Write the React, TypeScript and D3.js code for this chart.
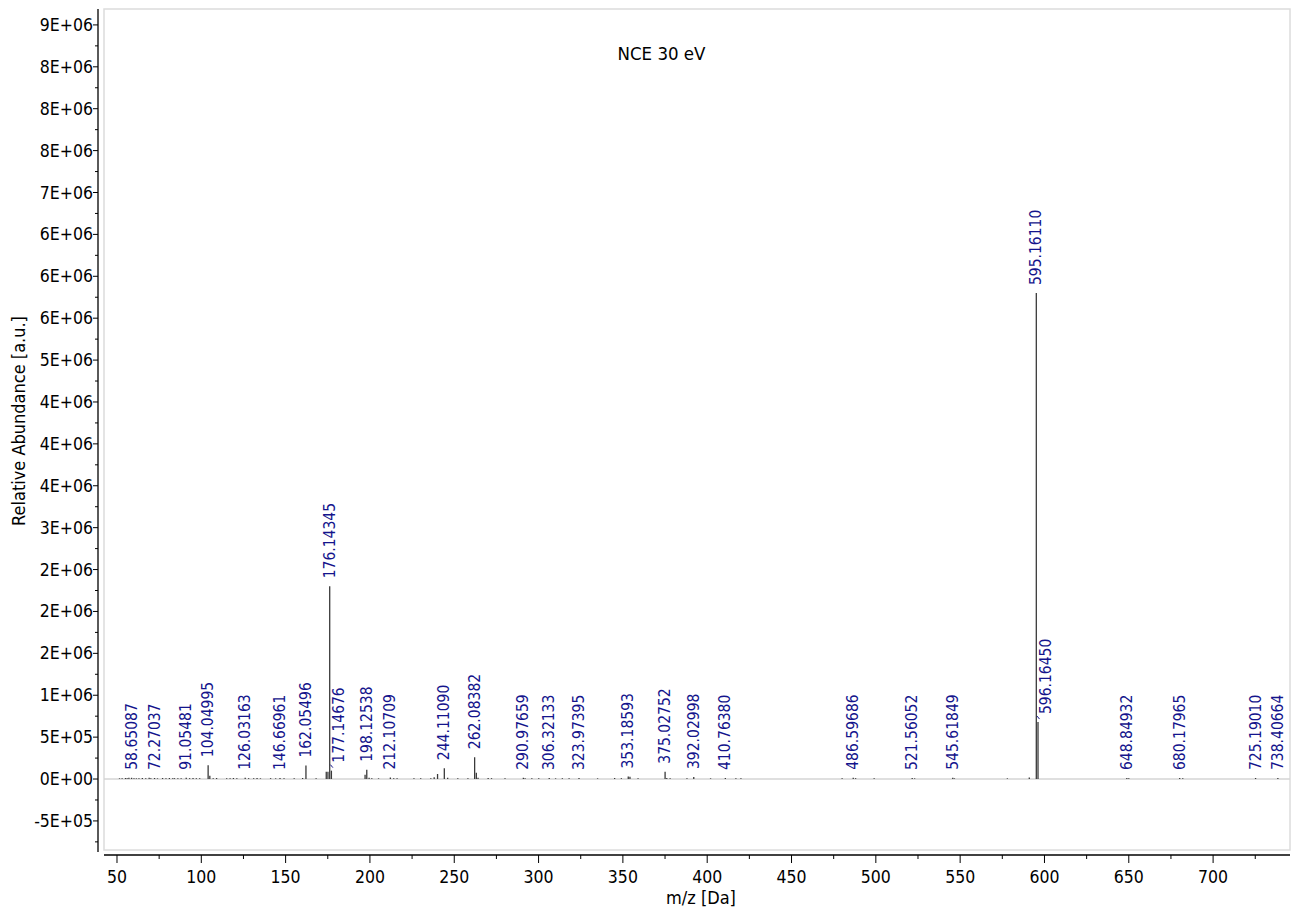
import React from 'react';
import * as d3 from 'd3';

// Centroided MS2 spectrum, NCE 30 eV

// annotated centroids: m/z and abundance
const labeledMz = [
  58.65087, 72.27037, 91.05481, 104.04995, 126.03163, 146.66961, 162.05496,
  176.14345, 177.14676, 198.12538, 212.10709, 244.1109, 262.08382, 290.97659,
  306.32133, 323.97395, 353.18593, 375.02752, 392.02998, 410.7638, 486.59686,
  521.56052, 545.61849, 595.1611, 596.1645, 648.84932, 680.17965, 725.1901,
  738.40664,
];
const labeledAbundance = [
  1.5e4, 1.2e4, 1.5e4, 1.65e5, 1.5e4, 1.2e4, 1.6e5,
  2.3e6, 1.0e5, 1.1e5, 1.8e4, 1.3e5, 2.6e5, 1.5e4,
  1.2e4, 1.2e4, 3.0e4, 8.7e4, 2.4e4, 1.2e4, 1.5e4,
  1.2e4, 1.5e4, 5.8e6, 6.8e5, 1.2e4, 1.2e4, 1.2e4,
  1.2e4,
];
// annotations drawn beside their centroid with a short leader
const leaderMz = [177.14676, 596.1645];

// unannotated centroids
const otherMz = [
  51.5, 53.04, 55.05, 56.05, 57.07, 60.08, 61.5, 63.02, 65.04, 67.05, 69.07,
  70.07, 74.02, 77.04, 79.05, 81.07, 83.06, 84.08, 86.1, 88.04, 93.07, 95.09,
  97.06, 99.05, 105.05, 107.05, 109.07, 115.05, 117.07, 119.05, 121.07, 128.06,
  131.05, 133.06, 135.08, 141.09, 144.08, 149.06, 155.08, 160.08, 168.08,
  174.1, 175.1, 197.12, 199.5, 201.1, 205.1, 214.1, 216.1, 226.1, 230.1, 236.1,
  238.1, 240.1, 246.1, 252.1, 258.1, 263.09, 264.09, 270.1, 272.1, 280.1, 292.0,
  296.0, 300.1, 310.1, 314.1, 318.1, 335.0, 345.1, 349.1, 354.19, 359.0, 376.03,
  378.0, 388.0, 402.0, 417.0, 420.0, 480.0, 488.0, 499.0, 523.0, 546.6, 578.0,
  591.0, 650.0, 682.0,
];
const otherAbundance = [
  8e3, 1e4, 1.2e4, 1e4, 1.5e4, 1e4, 8e3, 1e4, 1.2e4, 1e4, 1.5e4,
  1e4, 8e3, 1.2e4, 1e4, 1.2e4, 8e3, 1e4, 1e4, 8e3, 1e4, 1.2e4,
  8e3, 1e4, 4e4, 1e4, 1.2e4, 1e4, 1e4, 1.2e4, 8e3, 1e4,
  1e4, 1.2e4, 8e3, 1e4, 8e3, 1e4, 8e3, 1.2e4, 1e4,
  8.7e4, 8.7e4, 5e4, 1.5e4, 8e3, 8e3, 1e4, 8e3, 8e3, 1e4, 1e4,
  2e4, 6e4, 1.5e4, 8e3, 1e4, 7.5e4, 1.5e4, 1.2e4, 1e4, 8e3, 8e3,
  8e3, 8e3, 8e3, 1e4, 8e3, 8e3, 1.2e4, 1e4, 2.7e4, 8e3, 1.2e4,
  1e4, 8e3, 8e3, 8e3, 8e3, 8e3, 1e4, 8e3, 8e3, 8e3, 8e3,
  1.8e4, 8e3, 8e3,
];

const xTicks = [50, 100, 150, 200, 250, 300, 350, 400, 450, 500, 550, 600, 650, 700];
const xMinorTicks = [75, 125, 175, 225, 275, 325, 375, 425, 475, 525, 575, 625, 675, 725];
const yTicks = [
  -5e5, 0, 5e5, 1e6, 1.5e6, 2e6, 2.5e6, 3e6, 3.5e6, 4e6, 4.5e6, 5e6, 5.5e6, 6e6,
  6.5e6, 7e6, 7.5e6, 8e6, 8.5e6, 9e6,
];
const yTickLabels = [
  '-5E+05', '0E+00', '5E+05', '1E+06', '2E+06', '2E+06', '2E+06', '3E+06', '4E+06',
  '4E+06', '4E+06', '5E+06', '6E+06', '6E+06', '6E+06', '7E+06', '8E+06', '8E+06',
  '8E+06', '9E+06',
];

const title = 'NCE 30 eV';
const xTitle = 'm/z [Da]';
const yTitle = 'Relative Abundance [a.u.]';

const FONT = '"DejaVu Sans Condensed", "DejaVu Sans", sans-serif';
const LABEL_BLUE = '#14148c';

export default function App() {
  const plot = { left: 104, right: 1290, top: 9, bottom: 850 };
  const x = d3.scaleLinear().domain([42.3, 745.6]).range([plot.left, plot.right]);
  const y = d3.scaleLinear().domain([-8.47e5, 9.19e6]).range([plot.bottom, plot.top]);

  const yMinor = d3.range(-7.5e5, 9.2e6, 5e5).filter((v) => v >= -8.47e5 && v <= 9.19e6);
  const axisY = plot.bottom + 5;
  const axisX = 98;

  const peaks = [
    ...otherMz.map((m, i) => ({ mz: m, ab: otherAbundance[i] })),
    ...labeledMz.map((m, i) => ({ mz: m, ab: labeledAbundance[i] })),
  ];

  return (
    <svg
      width={1295}
      height={909}
      style={{ position: 'absolute', left: 0, top: 0, background: '#fff' }}
      fontFamily={FONT}
    >
      {/* plot frame */}
      <rect
        x={plot.left}
        y={plot.top}
        width={plot.right - plot.left}
        height={plot.bottom - plot.top}
        fill="#fff"
        stroke="#dcdcdc"
        strokeWidth={1.5}
      />
      {/* zero baseline */}
      <line x1={plot.left} x2={plot.right} y1={y(0)} y2={y(0)} stroke="#d4d4d4" strokeWidth={1.5} />

      {/* centroids */}
      {peaks.map((p, i) => (
        <line
          key={'p' + i}
          x1={x(p.mz)}
          x2={x(p.mz)}
          y1={y(0)}
          y2={y(p.ab)}
          stroke="#3a3a3a"
          strokeWidth={1.3}
        />
      ))}

      {/* annotations */}
      {labeledMz.map((m, i) => {
        const px = x(m);
        const top = y(labeledAbundance[i]);
        const shifted = leaderMz.includes(m);
        const lx = shifted ? px + 8 : px;
        const ly = top - 8;
        return (
          <g key={'l' + i}>
            {shifted && (
              <line x1={px - 1} y1={top - 6} x2={px + 1.5} y2={top - 3} stroke={LABEL_BLUE} strokeWidth={1} />
            )}
            <text
              transform={`translate(${lx},${ly}) rotate(-90)`}
              fontSize={15.5}
              fill={LABEL_BLUE}
              dominantBaseline="central"
            >
              {m.toFixed(5)}
            </text>
          </g>
        );
      })}

      {/* y axis */}
      <line x1={axisX} x2={axisX} y1={plot.top} y2={plot.bottom + 2} stroke="#000" strokeWidth={1.3} />
      {yMinor.map((v, i) => (
        <line key={'ym' + i} x1={axisX - 3} x2={axisX} y1={y(v)} y2={y(v)} stroke="#000" strokeWidth={1} />
      ))}
      {yTicks.map((v, i) => (
        <g key={'yt' + i}>
          <line x1={axisX - 5} x2={axisX} y1={y(v)} y2={y(v)} stroke="#000" strokeWidth={1} />
          <text x={axisX - 5} y={y(v)} textAnchor="end" dominantBaseline="central" fontSize={17.5} fill="#000">
            {yTickLabels[i]}
          </text>
        </g>
      ))}

      {/* x axis */}
      <line x1={plot.left} x2={plot.right} y1={axisY} y2={axisY} stroke="#000" strokeWidth={1.3} />
      {xMinorTicks.map((v) => (
        <line key={'xm' + v} x1={x(v)} x2={x(v)} y1={axisY} y2={axisY + 4} stroke="#000" strokeWidth={1} />
      ))}
      {xTicks.map((v) => (
        <g key={'xt' + v}>
          <line x1={x(v)} x2={x(v)} y1={axisY} y2={axisY + 8} stroke="#000" strokeWidth={1} />
          <text x={x(v)} y={877} textAnchor="middle" dominantBaseline="central" fontSize={17.5} fill="#000">
            {v}
          </text>
        </g>
      ))}

      {/* titles */}
      <text x={701} y={897} textAnchor="middle" dominantBaseline="central" fontSize={18} fill="#000">
        {xTitle}
      </text>
      <text
        transform={`translate(18,421) rotate(-90)`}
        textAnchor="middle"
        dominantBaseline="central"
        fontSize={18}
        fill="#000"
      >
        {yTitle}
      </text>
      <text x={661.5} y={53} textAnchor="middle" dominantBaseline="central" fontSize={18.5} fill="#000">
        {title}
      </text>
    </svg>
  );
}
